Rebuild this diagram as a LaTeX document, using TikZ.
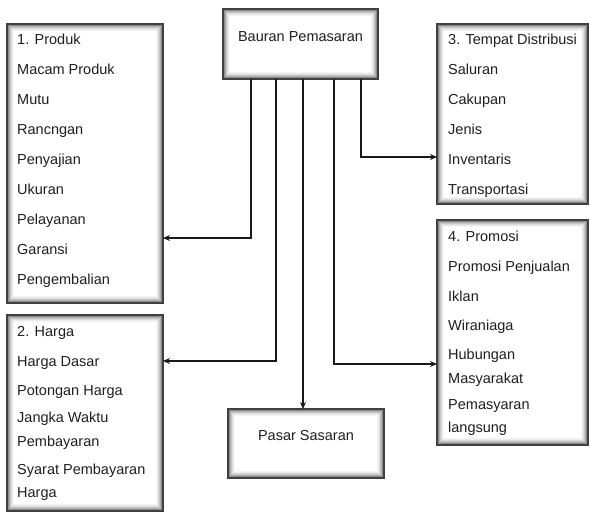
\documentclass[tikz,border=0pt]{standalone}
\usepackage{fontspec}
\setmainfont{Liberation Sans}
\usetikzlibrary{arrows.meta}
\tikzset{
  box/.style={draw=black!75, line width=1.8pt, fill=white, anchor=north west,
    inner sep=0pt, outer sep=0pt,
    path picture={
      \foreach \d/\g in {1.5/45,2.5/32,3.5/22,4.5/14,5.5/8,6.5/4}{
        \draw[line width=1pt, black!\g]
          ([shift={(\d pt,-\d pt)}]path picture bounding box.north west) rectangle
          ([shift={(-\d pt,\d pt)}]path picture bounding box.south east);
      }
    }},
  txt/.style={anchor=base west, inner sep=0pt, text=black!88,
    font=\fontsize{14.5}{17}\selectfont},
  ctxt/.style={anchor=base, inner sep=0pt, text=black!88,
    font=\fontsize{14.5}{17}\selectfont},
  conn/.style={line width=1.5pt, draw=black!90, -{Stealth[length=7pt,width=6pt]}}
}
\begin{document}
\begin{tikzpicture}[x=1pt,y=-1pt]
\useasboundingbox (0,0) rectangle (590,513);
% boxes
\node[box, minimum width=155pt, minimum height=70pt] (baur) at (223,9) {};
\node[box, minimum width=156pt, minimum height=279pt] (prod) at (7,24) {};
\node[box, minimum width=156pt, minimum height=196pt] (harga) at (7,315) {};
\node[box, minimum width=151pt, minimum height=180pt] (tempat) at (437,24) {};
\node[box, minimum width=151pt, minimum height=225pt] (promo) at (437,220) {};
\node[box, minimum width=156pt, minimum height=69pt] (pasar) at (228,409) {};
% titles
\node[ctxt] (tbaur) at (300.5,42) {Bauran Pemasaran};
\node[ctxt] (tpasar) at (306,441) {Pasar Sasaran};
% Produk
\node[txt] (p1) at (17,45) {1. Produk};
\node[txt] (p2) at (17,75) {Macam Produk};
\node[txt] (p3) at (17,105) {Mutu};
\node[txt] (p4) at (17,135) {Rancngan};
\node[txt] (p5) at (17,165) {Penyajian};
\node[txt] (p6) at (17,195) {Ukuran};
\node[txt] (p7) at (17,225) {Pelayanan};
\node[txt] (p8) at (17,255) {Garansi};
\node[txt] (p9) at (17,285) {Pengembalian};
% Harga
\node[txt] (h1) at (17,337) {2. Harga};
\node[txt] (h2) at (17,367) {Harga Dasar};
\node[txt] (h3) at (17,396) {Potongan Harga};
\node[txt] (h4) at (17,423) {Jangka Waktu};
\node[txt] (h5) at (17,447) {Pembayaran};
\node[txt] (h6) at (17,475) {Syarat Pembayaran};
\node[txt] (h7) at (17,497) {Harga};
% Tempat
\node[txt] (d1) at (448,45) {3. Tempat Distribusi};
\node[txt] (d2) at (448,75) {Saluran};
\node[txt] (d3) at (448,105) {Cakupan};
\node[txt] (d4) at (448,135) {Jenis};
\node[txt] (d5) at (448,165) {Inventaris};
\node[txt] (d6) at (448,195) {Transportasi};
% Promosi
\node[txt] (r1) at (448,242) {4. Promosi};
\node[txt] (r2) at (448,272) {Promosi Penjualan};
\node[txt] (r3) at (448,302) {Iklan};
\node[txt] (r4) at (448,331) {Wiraniaga};
\node[txt] (r5) at (448,360) {Hubungan};
\node[txt] (r6) at (448,384) {Masyarakat};
\node[txt] (r7) at (448,410) {Pemasyaran};
\node[txt] (r8) at (448,433) {langsung};
% connectors
\coordinate (a1) at (251,238);
\coordinate (a2) at (276,361);
\coordinate (a3) at (303,0);
\coordinate (a4) at (334,364);
\coordinate (a5) at (361,157);
\draw[conn] (baur.south -| a1) |- (prod.east |- a1);
\draw[conn] (baur.south -| a2) |- (harga.east |- a2);
\draw[conn] (baur.south -| a3) -- (pasar.north -| a3);
\draw[conn] (baur.south -| a4) |- (promo.west |- a4);
\draw[conn] (baur.south -| a5) |- (tempat.west |- a5);
\end{tikzpicture}
\end{document}
